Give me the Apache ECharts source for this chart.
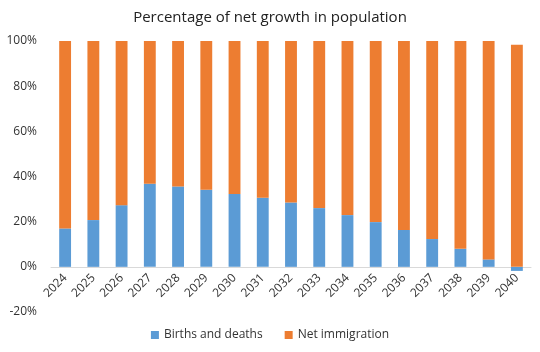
<!DOCTYPE html>
<html><head><meta charset="utf-8">
<script src="https://cdn.jsdelivr.net/npm/echarts@6/dist/echarts.min.js"></script>
<style>html,body{margin:0;padding:0;background:#fff}#c{width:540px;height:352px}</style>
</head><body><div id="c"></div>
<script>
const years = ['2024','2025','2026','2027','2028','2029','2030','2031','2032','2033','2034','2035','2036','2037','2038','2039','2040'];
const birthsAndDeaths = [17.0,20.7,27.3,36.8,35.6,34.1,32.3,30.6,28.5,26.0,22.9,19.8,16.3,12.3,8.0,3.3,-1.8];
const netImmigration = [83.0,79.3,72.7,63.2,64.4,65.9,67.7,69.4,71.5,74.0,77.1,80.2,83.7,87.7,92.0,96.7,98.3];
const yTicks = {min:-20, max:100, interval:20};

const chart = echarts.init(document.getElementById('c'));
const font = 'Open Sans';
chart.setOption({
  animation:false,
  title:{text:'Percentage of net growth in population', left:'center', top:5,
    textStyle:{fontFamily:font, fontSize:15, fontWeight:'normal', color:'#222'}},
  legend:{bottom:6, left:'center', itemWidth:8, itemHeight:8, itemGap:22, icon:'rect',
    textStyle:{fontFamily:font, fontSize:12, color:'#333'}},
  grid:{left:51, right:9, top:41, bottom:40},
  xAxis:{type:'category', data:years,
    axisLine:{onZero:true, lineStyle:{color:'#d9d9d9'}},
    axisTick:{show:false},
    axisLabel:{rotate:45, fontFamily:font, fontSize:12, color:'#333', margin:-36}},
  yAxis:{type:'value', min:yTicks.min, max:yTicks.max, interval:yTicks.interval,
    splitLine:{show:false}, axisLine:{show:false}, axisTick:{show:false},
    axisLabel:{formatter:'{value}%', fontFamily:font, fontSize:12, color:'#333', margin:14}},
  series:[
    {name:'Births and deaths', type:'bar', stack:'a', data:birthsAndDeaths, barWidth:'42%',
      itemStyle:{color:'#5B9BD5'}},
    {name:'Net immigration', type:'bar', stack:'a', data:netImmigration, barWidth:'42%',
      itemStyle:{color:'#ED7D31'}}
  ]
});
</script></body></html>
